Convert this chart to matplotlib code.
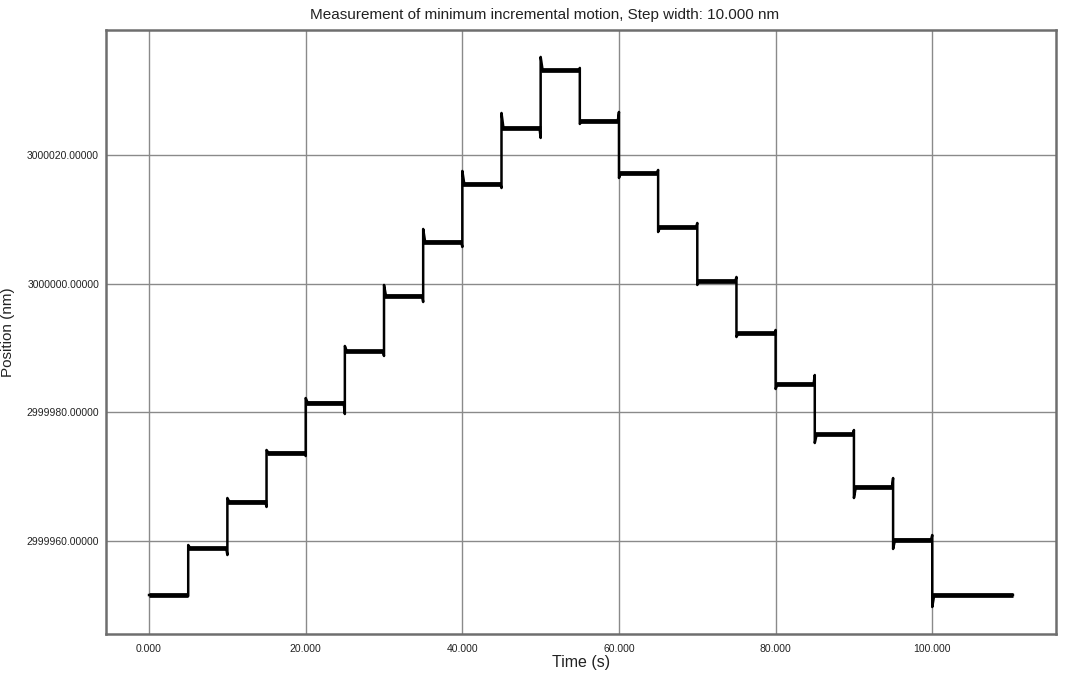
#!/usr/bin/env python3
"""Minimum incremental motion step test: position vs time."""

import matplotlib
matplotlib.use("Agg")
import matplotlib.pyplot as plt
import matplotlib.ticker as mticker

plt.rcParams["font.family"] = ["Liberation Sans", "DejaVu Sans"]

# ── Data ──────────────────────────────────────────────────────────────────
STEP_TIMES = [5, 10, 15, 20, 25, 30, 35, 40, 45, 50,
              55, 60, 65, 70, 75, 80, 85, 90, 95, 100]
T_START, T_END = 0.0, 110.3

# settled level of each plateau (nm)
LEVELS = [2999951.6, 2999958.9, 2999966.1, 2999973.7, 2999981.5,
          2999989.5, 2999998.1, 3000006.5, 3000015.5, 3000024.2,
          3000033.2, 3000025.3, 3000017.2, 3000008.8, 3000000.4,
          2999992.3, 2999984.4, 2999976.6, 2999968.4, 2999960.2,
          2999951.6]

# excursion just before each step (backlash) and overshoot right after it
PRE_SPIKE = [2999951.45, 2999957.82, 2999965.29, 2999973.21, 2999979.74,
             2999988.76, 2999997.15, 3000005.70, 3000014.87, 3000022.65,
             3000033.53, 3000026.69, 3000017.67, 3000009.43, 3000001.04,
             2999992.80, 2999985.80, 2999977.25, 2999969.79, 2999960.93]
POST_SPIKE = [2999959.38, 2999966.68, 2999974.15, 2999982.22, 2999990.31,
              2999999.80, 3000008.50, 3000017.52, 3000026.53, 3000035.24,
              3000024.82, 3000016.43, 3000008.03, 2999999.80, 2999991.71,
              2999983.63, 2999975.23, 2999966.68, 2999958.76, 2999949.74]

X_TICKS = [0, 20, 40, 60, 80, 100]
Y_TICKS = [2999960, 2999980, 3000000, 3000020]


# ── Build trace ───────────────────────────────────────────────────────────
ts, ys = [T_START], [LEVELS[0]]
for i, t in enumerate(STEP_TIMES):
    ts += [t - 0.15, t, t, t + 0.25]
    ys += [LEVELS[i], PRE_SPIKE[i], POST_SPIKE[i], LEVELS[i + 1]]
ts.append(T_END)
ys.append(LEVELS[-1])

starts = [T_START] + STEP_TIMES
ends = STEP_TIMES + [T_END]

# ── Plot ──────────────────────────────────────────────────────────────────
fig = plt.figure(figsize=(10.77, 6.80), dpi=100)
ax = fig.add_axes([0.0984, 0.0676, 0.8821, 0.8883])

# thin trace for the transitions, thicker plateaus (measurement noise band)
ax.plot(ts, ys, color="black", linewidth=1.8, zorder=3)
ax.hlines(LEVELS, starts, ends, color="black", linewidth=3.4, zorder=3)

ax.set_xlim(-5.5, 115.8)
ax.set_ylim(2999945.54, 3000039.43)
ax.set_xticks(X_TICKS)
ax.set_yticks(Y_TICKS)
ax.xaxis.set_major_formatter(mticker.FormatStrFormatter("%.3f"))
ax.yaxis.set_major_formatter(mticker.FormatStrFormatter("%.5f"))
ax.tick_params(axis="both", length=0, labelsize=7.5, colors="#222")
ax.tick_params(axis="x", pad=7)
ax.tick_params(axis="y", pad=5)

ax.grid(True, color="#8a8a8a", linewidth=1.0, zorder=0)
ax.set_axisbelow(True)
for sp in ax.spines.values():
    sp.set_color("#6e6e6e")
    sp.set_linewidth(1.8)

ax.set_xlabel("Time (s)", fontsize=11.5, color="#222", labelpad=1)
ax.set_ylabel("Position (nm)", fontsize=11, color="#222", labelpad=8)
fig.text(0.506, 0.978, "Measurement of minimum incremental motion, Step width: 10.000 nm",
         ha="center", va="center", fontsize=11, color="#222")

fig.savefig("out.png", dpi=100, facecolor="white")
plt.close(fig)
